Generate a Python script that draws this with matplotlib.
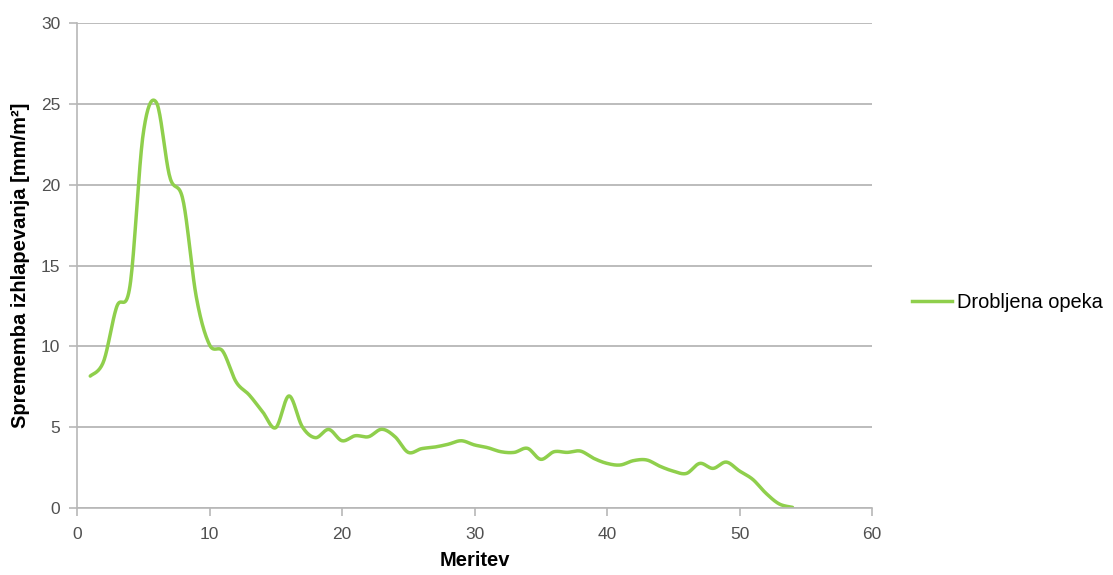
import numpy as np
import matplotlib
matplotlib.use("Agg")
import matplotlib.pyplot as plt
from matplotlib.lines import Line2D

x_vals = list(range(1, 55))
y_vals = [8.16, 9.05, 12.45, 13.75, 23.17, 25.07, 20.49, 19.05, 13.07, 10.1,
          9.7, 7.81, 6.99, 5.96, 4.97, 6.93, 5.03, 4.35, 4.86, 4.16,
          4.47, 4.41, 4.87, 4.41, 3.44, 3.67, 3.77, 3.94, 4.16, 3.90,
          3.73, 3.48, 3.44, 3.69, 3.01, 3.48, 3.44, 3.52, 3.07, 2.76,
          2.66, 2.93, 2.97, 2.58, 2.28, 2.14, 2.76, 2.45, 2.84, 2.29,
          1.77, 0.91, 0.25, 0.04]
series_name = "Drobljena opeka"
x_label = "Meritev"
y_label = "Sprememba izhlapevanja [mm/m²]"
x_ticks = [0, 10, 20, 30, 40, 50, 60]
y_ticks = [0, 5, 10, 15, 20, 25, 30]

def smooth(xs, ys, n=20):
    xs = np.asarray(xs, float); ys = np.asarray(ys, float)
    px = np.concatenate([[xs[0]], xs, [xs[-1]]])
    py = np.concatenate([[ys[0]], ys, [ys[-1]]])
    ox, oy = [], []
    t = np.linspace(0, 1, n, endpoint=False)
    for i in range(1, len(px) - 2):
        p0 = np.array([px[i], py[i]]); p3 = np.array([px[i+1], py[i+1]])
        c1 = p0 + (np.array([px[i+1], py[i+1]]) - np.array([px[i-1], py[i-1]])) / 6
        c2 = p3 - (np.array([px[i+2], py[i+2]]) - np.array([px[i], py[i]])) / 6
        b = ((1-t)**3)[:, None]*p0 + (3*(1-t)**2*t)[:, None]*c1 + (3*(1-t)*t**2)[:, None]*c2 + (t**3)[:, None]*p3
        ox.extend(b[:, 0]); oy.extend(b[:, 1])
    ox.append(xs[-1]); oy.append(ys[-1])
    return np.array(ox), np.array(oy)

plt.rcParams['font.family'] = ['Liberation Sans', 'DejaVu Sans']
fig = plt.figure(figsize=(11.13, 5.75), dpi=100)
ax = fig.add_axes([77/1113, 1-508/575, (872-77)/1113, (508-23)/575])
color = '#8fcf4c'
sx, sy = smooth(x_vals, y_vals)
ax.plot(sx, sy, color=color, lw=2.5, solid_capstyle='round')
ax.set_xlim(0, 60); ax.set_ylim(0, 30)
ax.set_xticks(x_ticks); ax.set_yticks(y_ticks)
ax.yaxis.grid(True, color='#b0b0b0', lw=1.2)
ax.set_axisbelow(True)
for s in ['top', 'right']:
    ax.spines[s].set_visible(False)
for s in ['left', 'bottom']:
    ax.spines[s].set_color('#b8b8b8'); ax.spines[s].set_linewidth(1.2)
ax.tick_params(axis='both', colors='#b8b8b8', length=6, width=1.2, labelcolor='#505050', labelsize=12.5)
ax.tick_params(axis='x', pad=8)
ax.tick_params(axis='y', pad=6)
ax.set_xlabel(x_label, fontsize=14.5, fontweight='bold', labelpad=6)
ax.set_ylabel(y_label, fontsize=14.5, fontweight='bold', labelpad=8)
h = Line2D([0], [0], color=color, lw=2.5)
fig.legend([h], [series_name], loc='center left', bbox_to_anchor=(912/1113, 1-302/575),
           frameon=False, fontsize=14.4, handlelength=2.0, handletextpad=0.25,
           borderpad=0, borderaxespad=0)
fig.savefig('out.png', dpi=100)
